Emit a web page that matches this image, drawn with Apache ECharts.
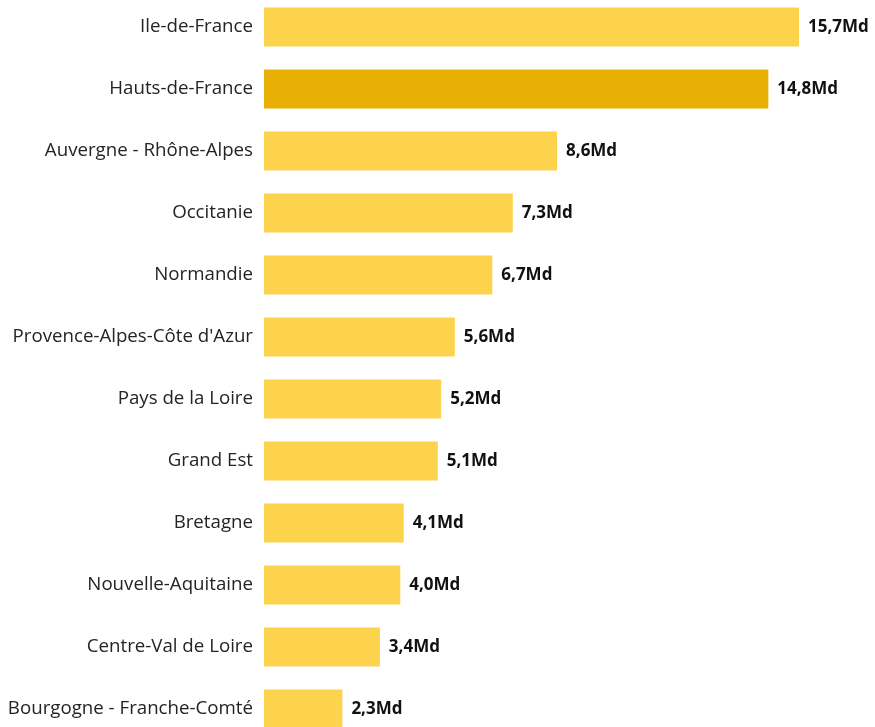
<!DOCTYPE html>
<html>
<head>
<meta charset="utf-8">
<script src="https://cdn.jsdelivr.net/npm/echarts@6/dist/echarts.min.js"></script>
<style>
  html, body { margin: 0; padding: 0; background: #fff; }
  #wrap { width: 875px; height: 727px; overflow: hidden; position: relative; }
  /* the last row is cut off by the bottom edge in the original */
  #chart { width: 875px; height: 744px; position: absolute; left: 0; top: -4.5px; }
</style>
</head>
<body>
<div id="wrap"><div id="chart"></div></div>
<script>
// regions, top to bottom
const regions = [
  'Ile-de-France', 'Hauts-de-France', 'Auvergne - Rhône-Alpes', 'Occitanie',
  'Normandie', "Provence-Alpes-Côte d'Azur", 'Pays de la Loire', 'Grand Est',
  'Bretagne', 'Nouvelle-Aquitaine', 'Centre-Val de Loire', 'Bourgogne - Franche-Comté'
]
// montants en milliards
const amounts = [15.7, 14.8, 8.6, 7.3, 6.7, 5.6, 5.2, 5.1, 4.1, 4.0, 3.4, 2.3]
const highlighted = 'Hauts-de-France'

const chart = echarts.init(document.getElementById('chart'))
chart.setOption({
  animation: false,
  grid: { left: 264, right: 76, top: 0, bottom: 0, containLabel: false },
  xAxis: {
    type: 'value', min: 0, max: 15.7,
    show: false
  },
  yAxis: {
    type: 'category',
    inverse: true,
    data: regions,
    axisLine: { show: false },
    axisTick: { show: false },
    splitLine: { show: false },
    axisLabel: {
      margin: 11,
      fontSize: 18.7,
      color: '#252423',
      fontFamily: '"Open Sans", "Noto Sans", sans-serif'
    }
  },
  series: [{
    type: 'bar',
    barWidth: 39,
    data: amounts.map((v, i) => ({
      value: v,
      itemStyle: { color: regions[i] === highlighted ? '#E8B004' : '#FDD24C' }
    })),
    label: {
      show: true,
      position: 'right',
      distance: 9,
      fontSize: 17,
      fontWeight: 'bold',
      color: '#111',
      fontFamily: '"Open Sans", "Noto Sans", sans-serif',
      formatter: p => p.value.toFixed(1).replace('.', ',') + 'Md'
    }
  }]
})
</script>
</body>
</html>
